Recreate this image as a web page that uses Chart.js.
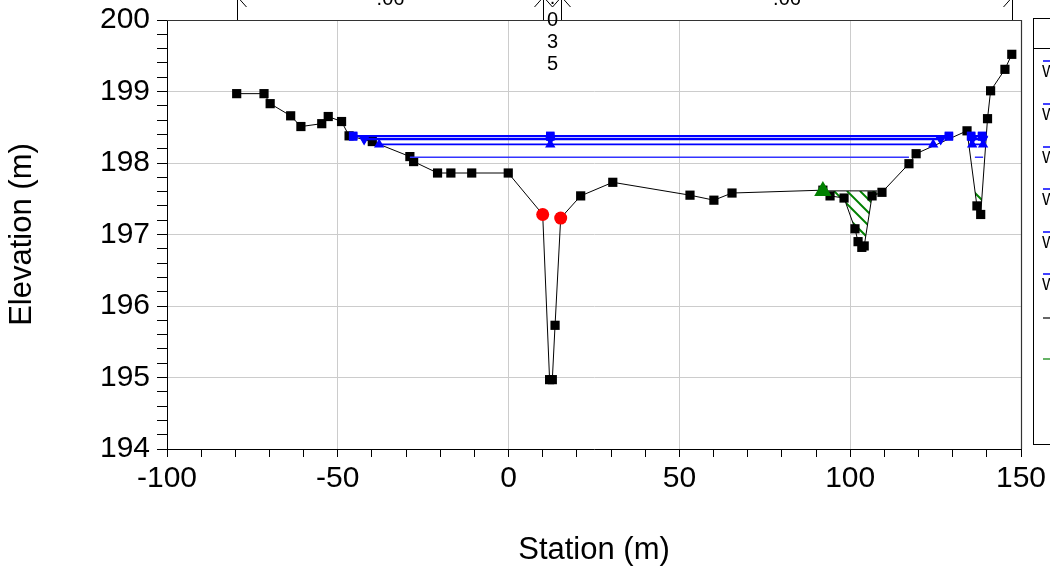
<!DOCTYPE html>
<html lang="en">
<head>
  <meta charset="UTF-8">
  <title>Cross Section</title>
  <script src="https://cdn.jsdelivr.net/npm/chart.js"></script>
  <style>
    body { margin: 0; background: #fff; }
    #wrap { width: 1050px; height: 566px; position: relative; }
  </style>
</head>
<body>
  <div id="wrap"><canvas id="xsChart"></canvas></div>

  <script>
    // ground points (station m, elevation m)
    const groundSta = [-79.6, -71.6, -69.8, -63.8, -60.8, -54.7, -52.8, -48.9, -46.7, -39.9, -28.9, -27.8,
      -20.8, -16.9, -10.8, -0.1, 9.98, 12.0, 12.8, 13.6, 15.25, 21.1, 30.5, 53.1, 60.1, 65.4, 92.0, 94.1,
      98.2, 101.4, 102.3, 103.4, 104.1, 106.4, 109.3, 117.2, 119.3, 134.2, 137.1, 138.2, 140.2, 141.1, 145.3, 147.3];
    const groundElev = [198.97, 198.97, 198.83, 198.66, 198.51, 198.55, 198.65, 198.58, 198.38, 198.30, 198.09, 198.02,
      197.86, 197.86, 197.86, 197.86, 197.28, 194.97, 194.97, 195.73, 197.23, 197.54, 197.73, 197.55, 197.48, 197.58, 197.62, 197.54,
      197.51, 197.08, 196.90, 196.82, 196.84, 197.54, 197.59, 197.99, 198.13, 198.45, 197.40, 197.28, 198.62, 199.01, 199.31, 199.52];

    // bank stations
    const bankSta = [9.98, 15.25];
    const bankElev = [197.28, 197.23];

    // water surfaces
    const wsNames = ['WS PF 6', 'WS PF 5', 'WS PF 4', 'WS PF 3', 'WS PF 2', 'WS PF 1'];
    const wsElev = [198.38, 198.37, 198.34, 198.33, 198.26, 198.08];
    const wsLeft = [-45.5, -45.5, -42.3, -42.3, -37.9, -28.9];
    const wsMid = 12.2;
    const wsRight = [128.9, 128.9, 126.5, 126.5, 124.3, 117.2];
    const wsChanLeft = [135.4, 135.4, 135.7, 135.7, 135.7, 136.5];
    const wsChanRight = [138.6, 138.6, 138.9, 138.9, 138.9, 138.9];
    const wsMarker = ['rect', 'rect', 'triangle', 'triangle', 'triangle', false];
    const wsRotation = [0, 0, 180, 180, 0, 0];

    // ineffective flow areas
    const ineffStart = [92.0, 136.5];
    const ineffEnd = [107.9, 138.7];
    const ineffElev = [197.61, 197.61];

    // manning's n at top
    const nBreaks = [-79.6, 9.98, 15.25, 147.3];
    const nValues = ['.06', '.035', '.06'];

    const FONT = '"Liberation Sans", Arial, sans-serif';

    function groundAt(st) {
      for (let i = 0; i < groundSta.length - 1; i++) {
        const a = groundSta[i], b = groundSta[i + 1];
        if (st >= a && st <= b) {
          const t = b === a ? 0 : (st - a) / (b - a);
          return groundElev[i] + t * (groundElev[i + 1] - groundElev[i]);
        }
      }
      return groundElev[groundElev.length - 1];
    }

    const wsDatasets = wsNames.map((name, i) => ({
      label: name,
      data: [
        { x: wsLeft[i], y: wsElev[i] },
        { x: wsMid, y: wsElev[i] },
        { x: wsRight[i], y: wsElev[i] },
        { x: (wsRight[i] + wsChanLeft[i]) / 2, y: null },
        { x: wsChanLeft[i], y: wsElev[i] },
        { x: wsChanRight[i], y: wsElev[i] }
      ],
      showLine: true,
      borderColor: i === 5 ? '#3333ff' : '#0000ff',
      backgroundColor: '#0000ff',
      borderWidth: i === 5 ? 1.5 : 1.6,
      pointStyle: wsMarker[i] || 'circle',
      pointRotation: wsRotation[i],
      pointRadius: wsMarker[i] ? 6 : 0,
      pointBorderWidth: 0
    }));

    const hatchPlugin = {
      id: 'hatch',
      beforeDatasetsDraw(chart) {
        const { ctx, scales: { x, y } } = chart;
        ctx.save();
        ineffStart.forEach((s0, k) => {
          const s1 = ineffEnd[k], e = ineffElev[k];
          const pts = [[s0, e], [s1, e], [s1, Math.min(groundAt(s1), e)]];
          for (let i = groundSta.length - 1; i >= 0; i--) {
            if (groundSta[i] > s0 && groundSta[i] < s1) pts.push([groundSta[i], Math.min(groundElev[i], e)]);
          }
          pts.push([s0, Math.min(groundAt(s0), e)]);
          ctx.save();
          ctx.beginPath();
          pts.forEach((p, j) => {
            const px = x.getPixelForValue(p[0]), py = y.getPixelForValue(p[1]);
            j ? ctx.lineTo(px, py) : ctx.moveTo(px, py);
          });
          ctx.closePath();
          ctx.clip();
          const xa = x.getPixelForValue(s0), xb = x.getPixelForValue(s1);
          const yt = y.getPixelForValue(e);
          ctx.strokeStyle = '#008000';
          ctx.lineWidth = 2;
          for (let px = xa - 80; px < xb; px += 13) {
            ctx.beginPath();
            ctx.moveTo(px, yt);
            ctx.lineTo(px + 80, yt + 80);
            ctx.stroke();
          }
          ctx.restore();
          if (k === 0) {
            ctx.strokeStyle = '#000';
            ctx.lineWidth = 1;
            ctx.beginPath();
            ctx.moveTo(xa, yt);
            ctx.lineTo(xb, yt);
            ctx.stroke();
          }
        });
        ctx.restore();
      }
    };

    const decorPlugin = {
      id: 'decor',
      afterDraw(chart) {
        const { ctx, scales: { x }, chartArea: ca } = chart;
        ctx.save();
        // frame top / right
        ctx.strokeStyle = '#333';
        ctx.lineWidth = 1.2;
        ctx.beginPath();
        ctx.moveTo(ca.left, ca.top + 0.5);
        ctx.lineTo(ca.right + 0.5, ca.top + 0.5);
        ctx.lineTo(ca.right + 0.5, ca.bottom);
        ctx.stroke();

        // n values above the plot
        ctx.strokeStyle = '#000';
        ctx.fillStyle = '#000';
        ctx.lineWidth = 1;
        const xs = nBreaks.map(s => Math.round(x.getPixelForValue(s)) + 0.5);
        xs.forEach(px => {
          ctx.beginPath();
          ctx.moveTo(px, 0);
          ctx.lineTo(px, ca.top);
          ctx.stroke();
        });
        const ay = -2;
        for (let i = 0; i < nValues.length; i++) {
          const x0 = xs[i], x1 = xs[i + 1];
          ctx.beginPath();
          ctx.moveTo(x0 + 9, ay - 9); ctx.lineTo(x0 + 1, ay); ctx.lineTo(x0 + 9, ay + 9);
          ctx.moveTo(x1 - 9, ay - 9); ctx.lineTo(x1 - 1, ay); ctx.lineTo(x1 - 9, ay + 9);
          ctx.stroke();
          ctx.font = '20px ' + FONT;
          ctx.textAlign = 'center';
          ctx.textBaseline = 'middle';
          const mid = (x0 + x1) / 2;
          if (x1 - x0 > 60) {
            ctx.fillText(nValues[i], mid, -1);
          } else {
            const chars = nValues[i].split('');
            chars.forEach((c, j) => ctx.fillText(c, mid, -2 + j * 22));
          }
        }

        // legend box (mostly off canvas)
        const lx = 1033.5;
        ctx.strokeStyle = '#000';
        ctx.lineWidth = 1;
        ctx.strokeRect(lx, 18.5, 60, 426);
        ctx.beginPath();
        ctx.moveTo(lx, 48.5);
        ctx.lineTo(lx + 60, 48.5);
        ctx.stroke();
        ctx.textAlign = 'left';
        ctx.textBaseline = 'middle';
        ctx.font = '16px ' + FONT;
        const rows = [61, 104, 147, 189, 232, 274];
        rows.forEach((ry, i) => {
          ctx.strokeStyle = '#0000ff';
          ctx.lineWidth = 1.5;
          ctx.beginPath();
          ctx.moveTo(1043, ry);
          ctx.lineTo(1070, ry);
          ctx.stroke();
          ctx.fillStyle = '#000';
          ctx.fillText(wsNames[i], 1042, ry + 12);
        });
        [['#000', 318, 'Ground'], ['#008000', 359, 'Ineff']].forEach(([c, ry, t]) => {
          ctx.strokeStyle = c;
          ctx.lineWidth = 1.2;
          ctx.beginPath();
          ctx.moveTo(1043, ry);
          ctx.lineTo(1070, ry);
          ctx.stroke();
          ctx.fillStyle = '#000';
          ctx.fillText(t, 1075, ry);
        });
        ctx.restore();
      }
    };

    const isInt = v => Math.abs(v - Math.round(v)) < 1e-6;

    new Chart(document.getElementById('xsChart'), {
      type: 'scatter',
      data: {
        datasets: [
          ...wsDatasets,
          {
            label: 'Bank Sta',
            data: bankSta.map((s, i) => ({ x: s, y: bankElev[i] })),
            backgroundColor: '#ff0000',
            borderColor: '#ff0000',
            pointRadius: 6.5,
            pointBorderWidth: 0,
            showLine: false
          },
          {
            label: 'Ineff',
            data: [{ x: ineffStart[0], y: ineffElev[0] }],
            pointStyle: 'triangle',
            backgroundColor: '#008000',
            borderColor: '#008000',
            pointRadius: 10,
            pointBorderWidth: 0,
            showLine: false
          },
          {
            label: 'Ground',
            data: groundSta.map((s, i) => ({ x: s, y: groundElev[i] })),
            showLine: true,
            borderColor: '#000',
            backgroundColor: '#000',
            borderWidth: 1,
            pointStyle: 'rect',
            pointRadius: 6.5,
            pointBorderWidth: 0
          }
        ]
      },
      options: {
        responsive: true,
        maintainAspectRatio: false,
        animation: false,
        layout: { padding: { left: 0, right: 29, top: 20, bottom: 0 } },
        plugins: { legend: { display: false }, tooltip: { enabled: false } },
        scales: {
          x: {
            type: 'linear',
            min: -100,
            max: 150,
            afterFit(scale) {
              scale.height = 117;
              scale.paddingLeft = 0;
              scale.paddingRight = 0;
            },
            ticks: {
              stepSize: 10,
              autoSkip: false,
              maxRotation: 0,
              padding: 4,
              color: '#000',
              font: { family: FONT, size: 30 },
              callback: v => (v % 50 === 0 ? String(v) : '')
            },
            grid: {
              color: c => (c.tick && c.tick.value % 50 === 0 ? '#cccccc' : 'rgba(0,0,0,0)'),
              tickColor: '#000',
              tickLength: 8,
              lineWidth: 1
            },
            border: { color: '#000', width: 1 },
            title: {
              display: true,
              text: 'Station (m)',
              color: '#000',
              font: { family: FONT, size: 31, lineHeight: 1 },
              padding: { top: 0, bottom: 0 }
            }
          },
          y: {
            type: 'linear',
            min: 194,
            max: 200,
            afterFit(scale) {
              scale.width = 167;
              scale.paddingTop = 0;
              scale.paddingBottom = 0;
            },
            ticks: {
              stepSize: 0.2,
              autoSkip: false,
              maxTicksLimit: 100,
              padding: 7,
              color: '#000',
              font: { family: FONT, size: 30 },
              callback: v => (isInt(v) ? String(Math.round(v)) : '')
            },
            grid: {
              color: c => (c.tick && isInt(c.tick.value) ? '#cccccc' : 'rgba(0,0,0,0)'),
              tickColor: '#000',
              tickLength: 10,
              lineWidth: 1
            },
            border: { color: '#000', width: 1 },
            title: {
              display: true,
              text: 'Elevation (m)',
              color: '#000',
              font: { family: FONT, size: 31 },
              padding: { top: 4, bottom: 4 }
            }
          }
        }
      },
      plugins: [hatchPlugin, decorPlugin]
    });
  </script>
</body>
</html>
